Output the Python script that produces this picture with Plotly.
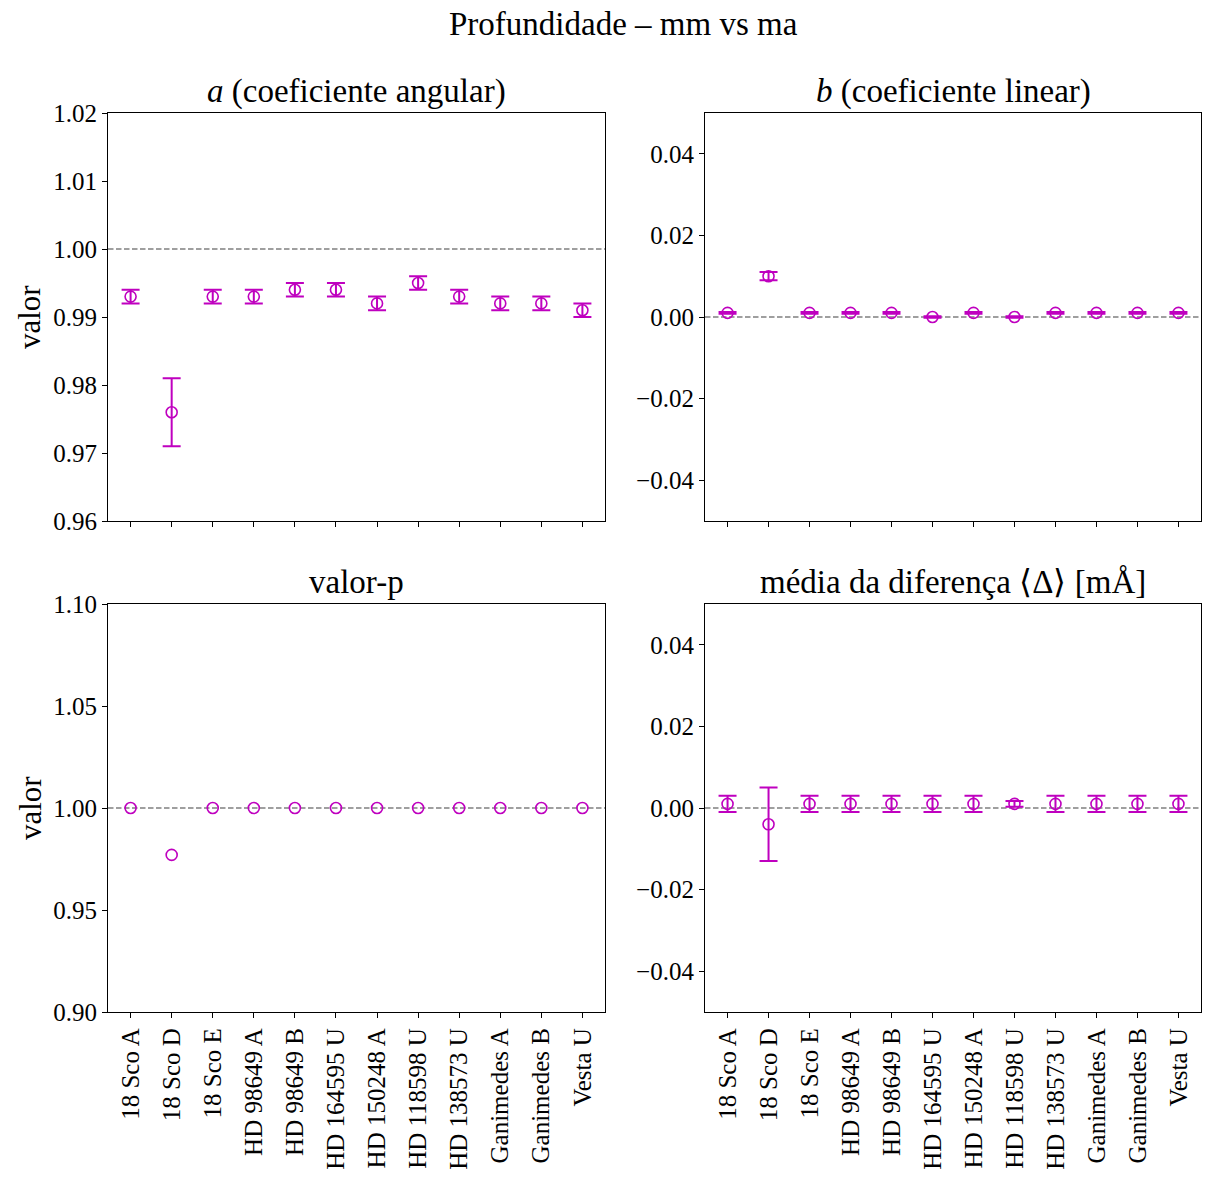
import plotly.graph_objects as go

# Targets (x categories shared by all panels)
estrelas = ["18 Sco A", "18 Sco D", "18 Sco E", "HD 98649 A", "HD 98649 B",
            "HD 164595 U", "HD 150248 A", "HD 118598 U", "HD 138573 U",
            "Ganimedes A", "Ganimedes B", "Vesta U"]

# a (slope) and its uncertainty
a_val = [0.993, 0.976, 0.993, 0.993, 0.994, 0.994, 0.992, 0.995, 0.993, 0.992, 0.992, 0.991]
a_err = [0.001, 0.005, 0.001, 0.001, 0.001, 0.001, 0.001, 0.001, 0.001, 0.001, 0.001, 0.001]

# b (intercept) and its uncertainty
b_val = [0.001, 0.010, 0.001, 0.001, 0.001, 0.000, 0.001, 0.000, 0.001, 0.001, 0.001, 0.001]
b_err = [0.0002, 0.001, 0.0002, 0.0002, 0.0002, 0.0002, 0.0002, 0.0002, 0.0002, 0.0002, 0.0002, 0.0002]

# p-value
p_val = [1.0, 0.977, 1.0, 1.0, 1.0, 1.0, 1.0, 1.0, 1.0, 1.0, 1.0, 1.0]

# mean difference <Delta> and its uncertainty
d_val = [0.001, -0.004, 0.001, 0.001, 0.001, 0.001, 0.001, 0.001, 0.001, 0.001, 0.001, 0.001]
d_err = [0.002, 0.009, 0.002, 0.002, 0.002, 0.002, 0.002, 0.0007, 0.002, 0.002, 0.002, 0.002]

# y-axis ticks per panel
a_ticks = [0.96, 0.97, 0.98, 0.99, 1.00, 1.01, 1.02]
b_ticks = [-0.04, -0.02, 0.00, 0.02, 0.04]
p_ticks = [0.90, 0.95, 1.00, 1.05, 1.10]
d_ticks = [-0.04, -0.02, 0.00, 0.02, 0.04]

W, H = 1205, 1182
MAG = "#bf00bf"
FONT = "Liberation Serif"
TICK_SIZE = 25
TITLE_SIZE = 33
LABEL_SIZE = 31


def xdom(x0, x1):
    return [x0 / W, x1 / W]


def ydom(top, bottom):
    return [1 - bottom / H, 1 - top / H]


fig = go.Figure()

panels = [
    # (axis suffix, values, errors, ticks, range, dashed level, x domain, y domain)
    ("", a_val, a_err, a_ticks, [0.96, 1.02], 1.0, xdom(108, 605), ydom(113, 521)),
    ("2", b_val, b_err, b_ticks, [-0.05, 0.05], 0.0, xdom(705, 1201), ydom(113, 521)),
    ("3", p_val, None, p_ticks, [0.90, 1.10], 1.0, xdom(108, 605), ydom(604, 1012)),
    ("4", d_val, d_err, d_ticks, [-0.05, 0.05], 0.0, xdom(705, 1201), ydom(604, 1012)),
]

for i, (sfx, vals, errs, ticks, rng, level, xd, yd) in enumerate(panels):
    xa, ya = "x" + sfx, "y" + sfx
    err = None
    if errs is not None:
        err = dict(type="data", array=errs, visible=True, color=MAG,
                   thickness=2, width=9)
    fig.add_trace(go.Scatter(
        x=estrelas, y=vals, error_y=err, mode="markers", xaxis=xa, yaxis=ya,
        marker=dict(symbol="circle-open", size=11, color=MAG,
                    line=dict(width=1.6, color=MAG)),
        showlegend=False, cliponaxis=False,
    ))
    fig.add_shape(type="line", xref=xa + " domain", yref=ya, x0=0, x1=1,
                  y0=level, y1=level, layer="below",
                  line=dict(color="#808080", width=1.3, dash="5.5px,2.5px"))

    bottom_row = i >= 2
    ticktext = [format(t, ".2f").replace("-", "\u2212") for t in ticks]
    axis_common = dict(showline=True, mirror=True, linecolor="black", linewidth=1.2,
                       ticks="outside", ticklen=5, tickwidth=1.2, tickcolor="black",
                       showgrid=False, zeroline=False, automargin=False)
    fig.update_layout({
        ("xaxis" + sfx): dict(domain=xd, anchor=ya, type="category",
                              categoryorder="array", categoryarray=estrelas,
                              range=[-0.55, 11.55], showticklabels=bottom_row,
                              tickangle=-90,
                              tickfont=dict(family=FONT, size=TICK_SIZE, color="black"),
                              **axis_common),
        ("yaxis" + sfx): dict(domain=yd, anchor=xa, range=rng, tickvals=ticks,
                              ticktext=ticktext,
                              tickfont=dict(family=FONT, size=TICK_SIZE, color="black"),
                              **axis_common),
    })

annotations = [
    ("Profundidade \u2013 mm vs ma", 623, 24),
    ("<i>a</i> (coeficiente angular)", 356.5, 92),
    ("<i>b</i> (coeficiente linear)", 953, 92),
    ("valor-p", 356.5, 582),
    ("m\u00e9dia da diferen\u00e7a \u27e8\u0394\u27e9 [m\u00c5]", 953, 582),
]
for text, xc, yc in annotations:
    fig.add_annotation(text=text, x=xc / W, y=1 - yc / H, xref="paper", yref="paper",
                       xanchor="center", yanchor="middle", showarrow=False,
                       font=dict(family=FONT, size=TITLE_SIZE, color="black"))

for yc in (317, 808):
    fig.add_annotation(text="valor", x=30 / W, y=1 - yc / H, xref="paper", yref="paper",
                       xanchor="center", yanchor="middle", showarrow=False, textangle=-90,
                       font=dict(family=FONT, size=LABEL_SIZE, color="black"))

fig.update_layout(width=W, height=H,
                  margin=dict(l=0, r=0, t=0, b=0, pad=0, autoexpand=False),
                  paper_bgcolor="white", plot_bgcolor="white",
                  font=dict(family=FONT, color="black"))

fig.write_html("out.html")
